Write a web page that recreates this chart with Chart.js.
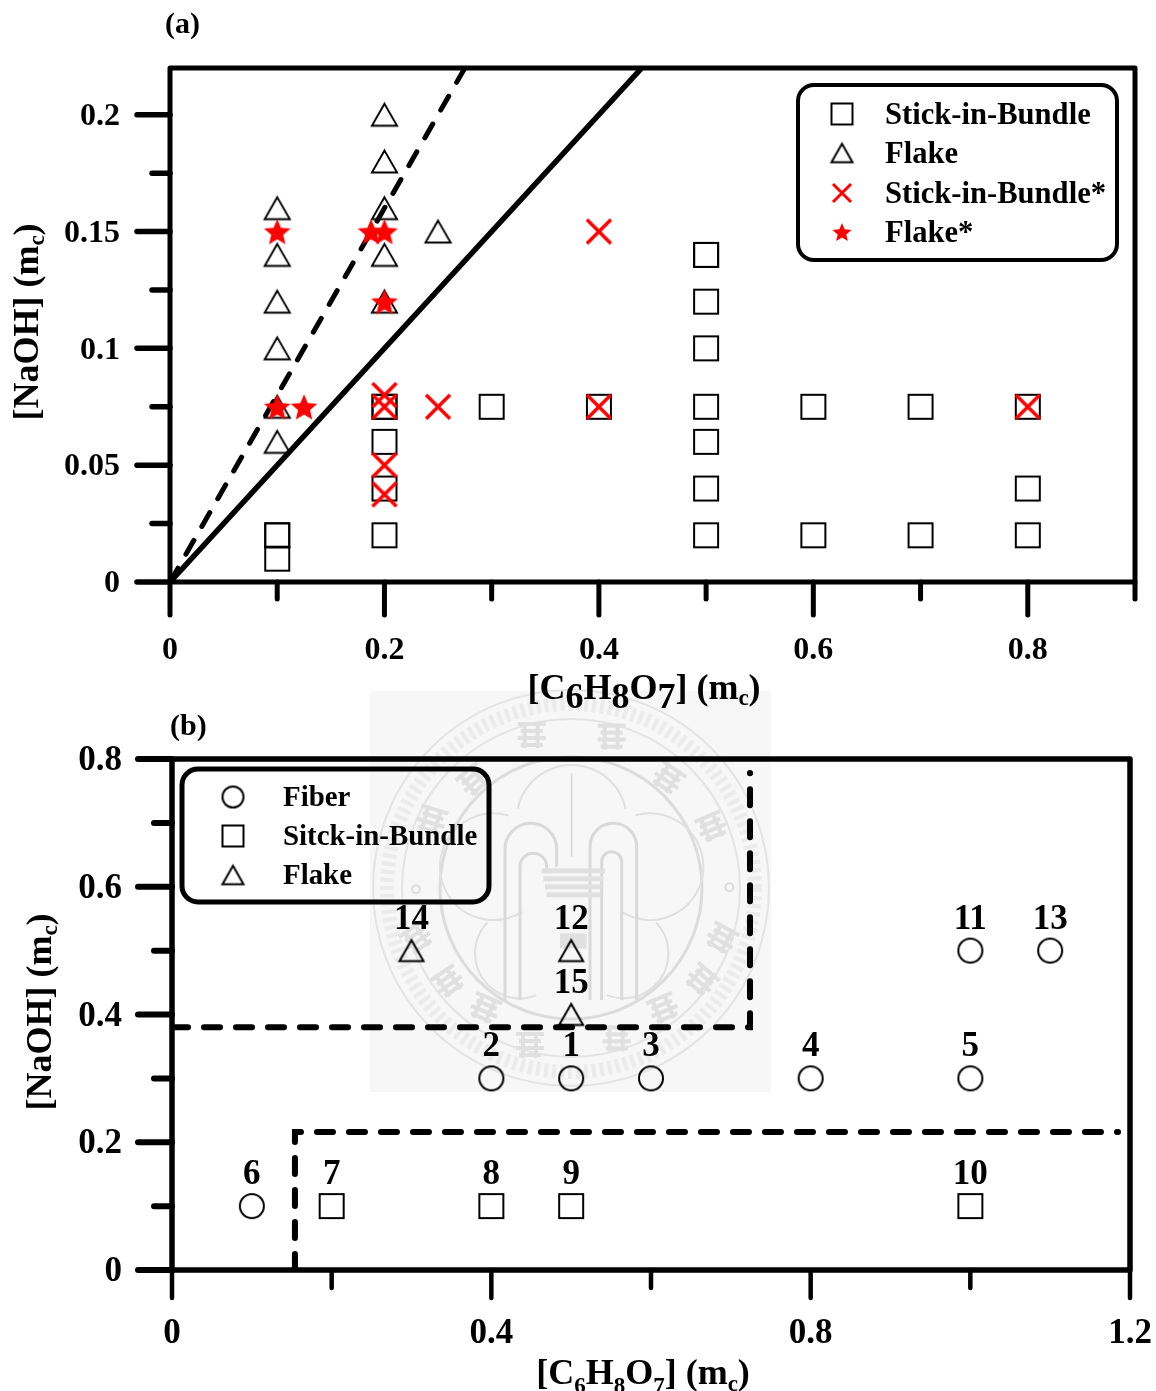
<!DOCTYPE html>
<html>
<head>
<meta charset="utf-8">
<title>Phase diagrams</title>
<script src="https://cdn.jsdelivr.net/npm/chart.js@4"></script>
<style>
  html, body { margin: 0; padding: 0; background: #fff; }
  canvas { position: absolute; left: 0; top: 0; }
</style>
</head>
<body>
<canvas id="chartb" width="1156" height="1391"></canvas>
<canvas id="charta" width="1156" height="1391"></canvas>
<script>
// (a) data
const stickA = [[0.1,0.01],[0.1,0.02],[0.1,0.02],[0.2,0.02],[0.2,0.04],[0.2,0.06],[0.2,0.075],[0.2,0.075],
  [0.3,0.075],[0.4,0.075],[0.5,0.02],[0.5,0.04],[0.5,0.06],[0.5,0.075],[0.5,0.1],[0.5,0.12],[0.5,0.14],[0.5,0.14],
  [0.6,0.02],[0.6,0.075],[0.7,0.02],[0.7,0.075],[0.8,0.02],[0.8,0.04],[0.8,0.075]]
const flakeA = [[0.1,0.06],[0.1,0.075],[0.1,0.1],[0.1,0.12],[0.1,0.14],[0.1,0.16],
  [0.2,0.12],[0.2,0.14],[0.2,0.16],[0.2,0.18],[0.2,0.2],[0.25,0.15]]
const stickStarA = [[0.2,0.0375],[0.2,0.05],[0.2,0.075],[0.2,0.08],[0.25,0.075],[0.4,0.075],[0.4,0.15],[0.8,0.075]]
const flakeStarA = [[0.1,0.075],[0.125,0.075],[0.1,0.15],[0.1875,0.15],[0.2,0.15],[0.2,0.12]]
const solidLineA = [[0,0],[0.44,0.22]]
const dashLineA = [[0,0],[0.275,0.22]]

const xTicksA = [0,0.1,0.2,0.3,0.4,0.5,0.6,0.7,0.8,0.9]
const xLabelsA = ['0','','0.2','','0.4','','0.6','','0.8','']
const yTicksA = [0,0.025,0.05,0.075,0.1,0.125,0.15,0.175,0.2]
const yLabelsA = ['0','','0.05','','0.1','','0.15','','0.2']

// (b) data
const fiberB = [[0.1,0.1],[0.4,0.3],[0.5,0.3],[0.6,0.3],[0.8,0.3],[1.0,0.3],[1.0,0.5],[1.1,0.5]]
const fiberNums = ['6','2','1','3','4','5','11','13']
const stickB = [[0.2,0.1],[0.4,0.1],[0.5,0.1],[1.0,0.1]]
const stickNums = ['7','8','9','10']
const flakeB = [[0.3,0.5],[0.5,0.5],[0.5,0.4]]
const flakeNums = ['14','12','15']
const dashUpperB = [[0,0.38],[0.724,0.38],[0.724,0.778]]
const dashLowerB = [[0.154,0],[0.154,0.216],[1.185,0.216]]

const xTicksB = [0,0.2,0.4,0.6,0.8,1.0,1.2]
const xLabelsB = ['0','','0.4','','0.8','','1.2']
const yTicksB = [0,0.1,0.2,0.3,0.4,0.5,0.6,0.7,0.8]
const yLabelsB = ['0','','0.2','','0.4','','0.6','','0.8']

const FONT = '"Liberation Serif", "Times New Roman", serif'

// markers as small canvases, the triangle and star are not in chart.js in this shape
function mark(kind, size, color, lw) {
  const c = document.createElement('canvas')
  c.width = c.height = size + 8
  const g = c.getContext('2d')
  const m = c.width / 2, r = size / 2
  g.strokeStyle = color
  g.fillStyle = color
  g.lineWidth = lw
  g.beginPath()
  if (kind == 'square') {
    g.rect(m - r, m - r, size, size)
    g.stroke()
  } else if (kind == 'circle') {
    g.arc(m, m, r, 0, Math.PI * 2)
    g.stroke()
  } else if (kind == 'triangle') {
    const h = size * 0.87
    g.moveTo(m, m - h / 2)
    g.lineTo(m + r, m + h / 2)
    g.lineTo(m - r, m + h / 2)
    g.closePath()
    g.lineJoin = 'miter'
    g.stroke()
  } else if (kind == 'cross') {
    g.moveTo(m - r, m - r); g.lineTo(m + r, m + r)
    g.moveTo(m + r, m - r); g.lineTo(m - r, m + r)
    g.stroke()
  } else if (kind == 'star') {
    for (let i = 0; i < 10; i++) {
      const rad = i % 2 ? r * 0.45 : r
      const a = -Math.PI / 2 + i * Math.PI / 5
      const px = m + Math.cos(a) * rad, py = m + r * 0.1 + Math.sin(a) * rad
      if (i == 0) g.moveTo(px, py); else g.lineTo(px, py)
    }
    g.closePath()
    g.fill()
  }
  return c
}

function pts(list) {
  return list.map(p => ({ x: p[0], y: p[1] }))
}

function points(label, list, style, legendStyle, order, nums) {
  return { label, data: pts(list), pointStyle: style, legendStyle, order, nums,
    pointRadius: 13, pointHoverRadius: 13, showLine: false }
}

function line(list, width, dash, order) {
  return { data: pts(list), showLine: true, pointRadius: 0, borderColor: '#000', borderWidth: width,
    borderDash: dash, borderCapStyle: dash.length ? 'round' : 'butt', borderJoinStyle: 'miter', tension: 0, order }
}

function drawTitle(ctx, parts, cx, cy, rotate) {
  ctx.save()
  ctx.translate(cx, cy)
  if (rotate) ctx.rotate(-Math.PI / 2)
  ctx.textBaseline = 'alphabetic'
  ctx.textAlign = 'left'
  ctx.fillStyle = '#000'
  let w = 0
  parts.forEach(p => {
    ctx.font = 'bold ' + p[1] + 'px ' + FONT
    w += ctx.measureText(p[0]).width
  })
  let x = -w / 2
  parts.forEach(p => {
    ctx.font = 'bold ' + p[1] + 'px ' + FONT
    ctx.fillText(p[0], x, p[2])
    x += ctx.measureText(p[0]).width
  })
  ctx.restore()
}

// axis frame, tick marks, titles, legend box, number labels
function decorations(o) {
  return {
    id: 'decorations',
    beforeDraw(chart) {
      if (o.background) o.background(chart.ctx)
    },
    afterDatasetsDraw(chart) {
      const ctx = chart.ctx
      const area = chart.chartArea
      const sx = chart.scales.x, sy = chart.scales.y
      ctx.save()
      ctx.strokeStyle = '#000'
      ctx.lineCap = 'round'
      ctx.lineJoin = 'round'
      ctx.lineWidth = o.frame
      ctx.strokeRect(area.left, area.top, area.right - area.left, area.bottom - area.top)
      ctx.lineWidth = o.tickX
      o.xTicks.forEach((v, i) => {
        const px = sx.getPixelForValue(v)
        ctx.beginPath()
        ctx.moveTo(px, area.bottom)
        ctx.lineTo(px, area.bottom + (o.xLabels[i] ? o.majorX : o.minorX))
        ctx.stroke()
      })
      ctx.lineWidth = o.tickY
      o.yTicks.forEach((v, i) => {
        const py = sy.getPixelForValue(v)
        ctx.beginPath()
        ctx.moveTo(area.left, py)
        ctx.lineTo(area.left - (o.yLabels[i] ? o.majorY : o.minorY), py)
        ctx.stroke()
      })

      // number labels over the points
      ctx.fillStyle = '#000'
      ctx.textAlign = 'center'
      ctx.textBaseline = 'middle'
      ctx.font = 'bold 35px ' + FONT
      chart.data.datasets.forEach((ds, i) => {
        if (!ds.nums) return
        chart.getDatasetMeta(i).data.forEach((el, j) => {
          ctx.fillText(ds.nums[j], el.x, el.y - 31)
        })
      })

      // legend
      const b = o.legend
      ctx.lineWidth = b.lw
      ctx.beginPath()
      ctx.roundRect(b.x, b.y, b.w, b.h, 16)
      if (b.fill) { ctx.fillStyle = b.fill; ctx.fill() }
      ctx.stroke()
      ctx.fillStyle = '#000'
      ctx.textAlign = 'left'
      ctx.font = 'bold ' + b.size + 'px ' + FONT
      const items = chart.data.datasets.filter(d => d.legendStyle)
      b.rows.forEach((row, i) => {
        const img = items[i].legendStyle
        ctx.drawImage(img, b.markX - img.width / 2, row - img.height / 2)
        ctx.fillText(items[i].label, b.textX, row + 2)
      })

      ctx.font = 'bold 30px ' + FONT
      ctx.fillText(o.panel[0], o.panel[1], o.panel[2])
      o.titles.forEach(t => drawTitle(ctx, t.parts, t.x, t.y, t.rotate))
      ctx.restore()
    }
  }
}

function scaleOpts(min, max, ticks, labels, fontSize, padding, side, size) {
  return {
    type: 'linear', min, max,
    afterBuildTicks(s) { s.ticks = ticks.map(v => ({ value: v })) },
    afterFit(s) {
      // label overhang would otherwise eat into the plot area
      s.paddingLeft = s.paddingRight = s.paddingTop = s.paddingBottom = 0
      if (side == 'x') s.height = size; else s.width = size
    },
    grid: { display: false },
    border: { display: false },
    ticks: {
      autoSkip: false, maxRotation: 0, padding, color: '#000',
      labelOffset: side == 'y' ? 2 : 0,
      font: { family: FONT, weight: 'bold', size: fontSize },
      callback: (v, i) => labels[i]
    }
  }
}

// the grey seal behind panel (b)
function seal(ctx) {
  const X = v => 360 + v / 3, Y = v => 680 + v / 3
  ctx.save()
  ctx.fillStyle = '#f7f7f7'
  ctx.fillRect(370, 691, 401, 401)
  const cx = 571, cy = 888
  ctx.strokeStyle = '#e4e4e4'
  ctx.lineWidth = 2
  ctx.beginPath(); ctx.arc(cx, cy, 198, 0, 7); ctx.stroke()
  ctx.beginPath(); ctx.arc(cx, cy, 169, 0, 7); ctx.stroke()
  ctx.strokeStyle = '#ebebeb'
  ctx.lineWidth = 14
  ctx.setLineDash([4, 4])
  ctx.beginPath(); ctx.arc(cx, cy, 184, 0, 7); ctx.stroke()
  ctx.setLineDash([])
  ctx.strokeStyle = '#dcdcdc'
  ctx.lineWidth = 3
  ctx.beginPath(); ctx.arc(cx, cy, 131, 0, 7); ctx.stroke()

  // seal characters, only as grey patches
  ctx.fillStyle = '#e0e0e0'
  const blobs = [[515,165,0],[755,170,0],[925,295,0.6],[1055,440,-0.4],[1085,775,0.5],[1025,900,0.7],[910,985,-0.4],
    [770,1075,0],[510,1095,0],[375,985,0.4],[265,905,-0.6],[215,420,0.3],[340,300,-0.7],[170,775,-0.6]]
  blobs.forEach(b => {
    ctx.save()
    ctx.translate(X(b[0]), Y(b[1]))
    ctx.rotate(b[2])
    for (let i = 0; i < 4; i++) ctx.fillRect(-14 + i % 2 * 3, -13 + i * 7, 28 - i % 2 * 6, 4)
    ctx.fillRect(-9, -13, 4, 26)
    ctx.fillRect(4, -13, 4, 26)
    ctx.restore()
  })
  ctx.strokeStyle = '#dcdcdc'
  ctx.lineWidth = 2
  ctx.beginPath(); ctx.arc(X(168), Y(628), 4, 0, 7); ctx.stroke()
  ctx.beginPath(); ctx.arc(X(1108), Y(622), 4, 0, 7); ctx.stroke()

  // blossom lobes
  const lobes = [[635,420,165,3.35,6.08],[400,560,160,1.0,5.0],[870,560,160,-1.85,2.1],[480,820,135,1.2,3.9],[790,820,135,-0.75,1.95]]
  ctx.strokeStyle = '#e0e0e0'
  ctx.lineWidth = 2
  lobes.forEach(l => {
    ctx.beginPath()
    ctx.arc(X(l[0]), Y(l[1]), l[2] / 3, l[3], l[4])
    ctx.stroke()
  })

  // fountain arches
  ctx.strokeStyle = '#d9d9d9'
  ctx.lineWidth = 3
  const arch = (xa, xb, top, end) => {
    ctx.beginPath()
    ctx.moveTo(X(xa), Y(960))
    ctx.lineTo(X(xa), Y(top + (xb - xa) / 2))
    ctx.arc(X((xa + xb) / 2), Y(top + (xb - xa) / 2), (xb - xa) / 6, Math.PI, 0)
    ctx.lineTo(X(xb), Y(end))
    ctx.stroke()
  }
  arch(435, 590, 430, 560)
  arch(480, 560, 520, 580)
  arch(690, 830, 430, 960)
  arch(725, 785, 515, 960)
  ctx.lineWidth = 1.5
  ctx.beginPath(); ctx.moveTo(X(635), Y(280)); ctx.lineTo(X(635), Y(530)); ctx.stroke()
  ctx.fillStyle = '#e0e0e0'
  for (let i = 0; i < 4; i++) ctx.fillRect(X(545 + i * 5), Y(565 + i * 24), (190 - i * 10) / 3, 5)
  ctx.fillRect(X(600), Y(760), 80 / 3, 45 / 3)
  ctx.restore()
}

const titleXA = [['[C',36,0],['6',36,9],['H',36,0],['8',36,9],['O',36,0],['7',36,9],['] (m',36,0],['c',23,6],[')',36,0]]
const titleYA = [['[NaOH] (m',36,0],['c',23,6],[')',36,0]]
const titleXB = [['[C',36,0],['6',23,9],['H',36,0],['8',23,9],['O',36,0],['7',23,9],['] (m',36,0],['c',23,7],[')',36,0]]
const titleYB = [['[NaOH] (m',36,0],['c',23,6],[')',36,0]]

new Chart(document.getElementById('charta'), {
  type: 'scatter',
  data: {
    datasets: [
      points('Stick-in-Bundle', stickA, mark('square', 24, '#000', 2), mark('square', 21, '#000', 2), 5),
      points('Flake', flakeA, mark('triangle', 25, '#000', 2), mark('triangle', 21, '#000', 2), 4),
      line(solidLineA, 5.5, [], 3),
      line(dashLineA, 5, [16, 16], 3),
      points('Stick-in-Bundle*', stickStarA, mark('cross', 24, '#f00', 3.5), mark('cross', 18, '#f00', 3), 2),
      points('Flake*', flakeStarA, mark('star', 28, '#f00', 1), mark('star', 20, '#f00', 1), 1)
    ]
  },
  options: {
    animation: false, responsive: false,
    layout: { autoPadding: false, padding: { left: 0, top: 68, right: 21, bottom: 709 } },
    plugins: { legend: { display: false }, tooltip: { enabled: false } },
    scales: {
      x: scaleOpts(0, 0.9, xTicksA, xLabelsA, 32, 42, 'x', 100),
      y: scaleOpts(0, 0.22, yTicksA, yLabelsA, 32, 42, 'y', 170)
    }
  },
  plugins: [decorations({
    frame: 5, tickX: 5, tickY: 5.5, majorX: 33, minorX: 17, majorY: 33, minorY: 18,
    xTicks: xTicksA, xLabels: xLabelsA, yTicks: yTicksA, yLabels: yLabelsA,
    panel: ['(a)', 165, 25],
    titles: [
      { parts: titleXA, x: 644, y: 699 },
      { parts: titleYA, x: 38, y: 322, rotate: true }
    ],
    legend: { x: 798, y: 85, w: 319, h: 175, lw: 4, size: 30.6, fill: '#fff', markX: 842, textX: 885, rows: [114, 153, 193, 232] }
  })]
})

new Chart(document.getElementById('chartb'), {
  type: 'scatter',
  data: {
    datasets: [
      points('Fiber', fiberB, mark('circle', 24, '#000', 2), mark('circle', 21, '#000', 2), 2, fiberNums),
      points('Sitck-in-Bundle', stickB, mark('square', 24, '#000', 2), mark('square', 21, '#000', 2), 2, stickNums),
      points('Flake', flakeB, mark('triangle', 24, '#000', 2), mark('triangle', 21, '#000', 2), 2, flakeNums),
      line(dashUpperB, 6, [16, 16], 1),
      line(dashLowerB, 6, [16, 16], 1)
    ]
  },
  options: {
    animation: false, responsive: false,
    layout: { autoPadding: false, padding: { left: 0, top: 759, right: 26, bottom: 0 } },
    plugins: { legend: { display: false }, tooltip: { enabled: false } },
    scales: {
      x: scaleOpts(0, 1.2, xTicksB, xLabelsB, 35, 35, 'x', 121),
      y: scaleOpts(0, 0.8, yTicksB, yLabelsB, 35, 42, 'y', 172)
    }
  },
  plugins: [decorations({
    frame: 5.5, tickX: 4.5, tickY: 6, majorX: 28, minorX: 18, majorY: 34, minorY: 18,
    xTicks: xTicksB, xLabels: xLabelsB, yTicks: yTicksB, yLabels: yLabelsB,
    panel: ['(b)', 170, 727],
    background: seal,
    titles: [
      { parts: titleXB, x: 643, y: 1384 },
      { parts: titleYB, x: 51, y: 1012, rotate: true }
    ],
    legend: { x: 182, y: 769, w: 307, h: 133, lw: 5, size: 28.9, markX: 233, textX: 283, rows: [797, 836, 875] }
  })]
})
</script>
</body>
</html>
